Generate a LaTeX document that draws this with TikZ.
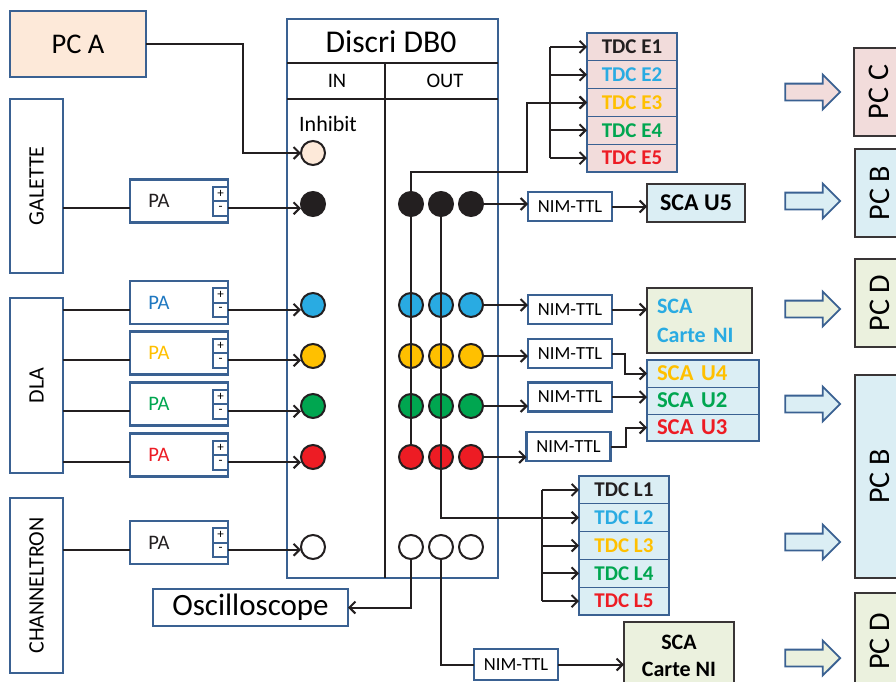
\documentclass[tikz,border=0pt]{standalone}
\usepackage{fontspec}
\setmainfont{Carlito}
\usetikzlibrary{arrows.meta,positioning,shapes.arrows}
\definecolor{frameblue}{HTML}{3A6192}
\definecolor{pcorange}{HTML}{FDE9D9}
\definecolor{pcpink}{HTML}{F2DCDB}
\definecolor{pcblue}{HTML}{DBEEF4}
\definecolor{pcgreen}{HTML}{EBF1DE}
\definecolor{chblack}{HTML}{231F20}
\definecolor{chcyan}{HTML}{29ABE2}
\definecolor{chyellow}{HTML}{FFC000}
\definecolor{chgreen}{HTML}{00A650}
\definecolor{chred}{HTML}{ED1C24}
\definecolor{pablue}{HTML}{1F78C1}

\begin{document}
\begin{tikzpicture}[
    x=1pt, y=-1pt,
    wire/.style={draw=chblack, line width=2pt},
    arr/.style={wire, -{Straight Barb[length=6pt,width=12pt]}},
    box/.style={draw=frameblue, line width=2.5pt, fill=white, inner sep=0pt, outer sep=0pt},
    pcbox/.style={draw=chblack!90, line width=2pt, inner sep=0pt, outer sep=0pt},
    pa/.style={box, minimum width=98pt, minimum height=43pt},
    pm/.style={draw=frameblue, line width=2pt, fill=white, minimum width=15pt, minimum height=14.5pt, inner sep=0pt, outer sep=0pt, font=\fontsize{13}{13}\selectfont},
    nim/.style={box, minimum width=84pt, minimum height=29pt, font=\fontsize{18.5}{19}\selectfont},
    dot/.style={circle, draw=chblack, line width=2pt, minimum size=24pt, inner sep=0pt, outer sep=0pt},
    row/.style={draw=frameblue, line width=1pt, minimum width=90pt, minimum height=27.8pt, inner sep=0pt, outer sep=0pt, font=\fontsize{21}{21}\selectfont\bfseries},
    frame/.style={draw=frameblue, line width=2.5pt},
    bigarrow/.style={single arrow, draw=frameblue, line width=1.8pt, minimum height=55pt, single arrow head extend=9pt, inner sep=0pt, text height=7.5pt, text depth=7.5pt, text width=0pt},
    side/.style={box, rotate=90, minimum height=53pt, font=\fontsize{22}{22}\selectfont},
    lbl/.style={inner sep=0pt}
]
\path[use as bounding box] (0,0) rectangle (896,681);
\clip (0,0) rectangle (896,681);

% sources
\node[box, fill=pcorange, minimum width=136pt, minimum height=66pt, font=\fontsize{28.5}{29}\selectfont] (pca) at (78,44) {PC A};
\node[side, minimum width=174pt] (gal) at (36.5,186) {GALETTE};
\node[side, minimum width=175pt] (dla) at (36.5,385.5) {DLA};
\node[side, minimum width=175pt] (chan) at (36.5,585.5) {CHANNELTRON};

% Discri
\node[box, minimum width=211pt, minimum height=559pt] (discri) at (392.5,298.5) {};
\draw[wire] (discri.west |- 0,63) -- (discri.east |- 0,63);
\draw[wire] (discri.west |- 0,99) -- (discri.east |- 0,99);
\draw[wire] (385,63) -- (discri.south -| 385,0);
\node[lbl, font=\fontsize{31.7}{32}\selectfont] (title) at (391,42) {Discri DB0};
\node[lbl, font=\fontsize{20.6}{21}\selectfont] (inlbl) at (337,81) {IN};
\node[lbl, font=\fontsize{20.6}{21}\selectfont] (outlbl) at (445,81) {OUT};
\node[lbl, font=\fontsize{22}{22}\selectfont] (inhlbl) at (328,124) {Inhibit};

% connecteurs
\node[dot, fill=pcorange] (inh) at (313,153) {};
\foreach \k/\yy/\col in {0/204/chblack,1/305/chcyan,2/356/chyellow,3/406/chgreen,4/457/chred,5/547/white}{
  \node[dot, fill=\col] (in\k) at (313,\yy) {};
  \node[dot, fill=\col] (outa\k) at (411,\yy) {};
  \node[dot, fill=\col] (outb\k) at (441,\yy) {};
  \node[dot, fill=\col] (outc\k) at (471,\yy) {};
}

\draw[arr] (pca.east) -- ++(97,0) |- (inh.west);

% preamplis
\foreach \k/\yy/\col/\src in {0/201/chblack/gal,1/302.5/pablue/dla,2/353/chyellow/dla,3/404/chgreen/dla,4/455/chred/dla,5/542.5/chblack/chan}{
  \node[pa] (pa\k) at (179,\yy) {};
  \node[lbl, text=\col, font=\fontsize{20.6}{21}\selectfont] (pat\k) at ([xshift=-20pt]pa\k.center) {PA};
  \node[pm, anchor=south east] (pl\k) at (pa\k.east) {+};
  \node[pm, anchor=north east] (mi\k) at (pa\k.east) {-};
  \draw[wire] (\src.south |- mi\k.west) -- (pa\k.west |- mi\k.west);
  \draw[arr] (mi\k.east) -- (mi\k.east -| in\k.west);
}

% TDC
\foreach \i/\col in {1/chblack,2/chcyan,3/chyellow,4/chgreen,5/chred}{
  \node[row, fill=pcpink, text=\col] (tdcE\i) at (632, 33+27.8*\i-13.9) {TDC E\i};
  \node[row, fill=pcblue, text=\col] (tdcL\i) at (624, 476+27.8*\i-13.9) {TDC L\i};
}
\draw[frame] (tdcE1.north west) rectangle (tdcE5.south east);
\draw[frame] (tdcL1.north west) rectangle (tdcL5.south east);

\coordinate (jE) at (527,172);
\coordinate (busE) at (550,0);
\coordinate (busL) at (542,0);

\draw[wire] (busE |- tdcE1.west) -- (busE |- tdcE5.west);
\draw[wire] (busL |- tdcL1.west) -- (busL |- tdcL5.west);
\foreach \i in {1,...,5}{
  \draw[arr] (busE |- tdcE\i.west) -- (tdcE\i.west);
  \draw[arr] (busL |- tdcL\i.west) -- (tdcL\i.west);
}

\draw[wire] (outa4.north) -- (outa0.center);
\draw[arr] (outa0.center) |- (jE) |- (tdcE3.west);
\draw[wire] (outb0.center) |- (busL |- tdcL2.west);

% NIM-TTL
\node[nim] (nim0) at (570,206.5) {NIM-TTL};
\node[nim] (nim1) at (570,309.5) {NIM-TTL};
\node[nim] (nim2) at (570,353.5) {NIM-TTL};
\node[nim] (nim3) at (570,397) {NIM-TTL};
\node[nim] (nim4) at (568.5,446.5) {NIM-TTL};
\node[nim, minimum height=31pt] (nim5) at (516,664.5) {NIM-TTL};
\foreach \k in {0,...,4}
  \draw[arr] (outc\k.east) -- (outc\k.east -| nim\k.west);

% SCA
\node[pcbox, fill=pcblue, minimum width=98pt, minimum height=38pt, font=\fontsize{24}{24}\selectfont\bfseries] (scaU5) at (696,203) {SCA U5};
\node[pcbox, fill=pcgreen, minimum width=105pt, minimum height=65pt, text width=85pt, align=left, text=chcyan, font=\fontsize{22}{29}\selectfont\bfseries] (scaNI) at (699.5,320.5) {SCA\\Carte NI};
\foreach \i/\nm/\col in {1/U4/chyellow,2/U2/chgreen,3/U3/chred}
  \node[row, fill=pcblue, text=\col, minimum width=112pt, minimum height=27pt, text width=92pt, align=left, font=\fontsize{22.7}{23}\selectfont\bfseries] (sca\nm) at (703, 360+27*\i-13.5) {SCA \nm};
\draw[frame] (scaU4.north west) rectangle (scaU3.south east);
\node[pcbox, fill=pcgreen, minimum width=110pt, minimum height=68pt, align=center, font=\fontsize{22}{27}\selectfont\bfseries] (scaNIb) at (679,656) {SCA\\Carte NI};

\draw[arr] (nim0.east) -- (nim0.east -| scaU5.west);
\draw[arr] (nim1.east) -- (nim1.east -| scaNI.west);
\draw[arr] (nim2.east) -- ++(13,0) |- (scaU4.west);
\draw[arr] (nim3.east) -- (nim3.east -| scaU2.west);
\draw[arr] (nim4.east) -- ++(15,0) |- (scaU3.west);

% sorties du bas
\node[box, minimum width=195pt, minimum height=37pt, font=\fontsize{31}{31}\selectfont] (osc) at (250.5,607.5) {Oscilloscope};
\draw[arr] (outa5.south) |- (osc.east);
\draw[wire] (outb5.south) |- (nim5.west);
\draw[arr] (nim5.east) -- (nim5.east -| scaNIb.west);

% PC
\foreach \yy/\col [count=\j] in {92/pcpink,201/pcblue,309/pcgreen,404/pcblue,542/pcblue,658/pcgreen}
  \node[bigarrow, fill=\col] (bar\j) at (808.5,\yy) {};
\node[pcbox, fill=pcpink, rotate=90, minimum width=88pt, minimum height=50pt, font=\fontsize{30}{30}\selectfont] (pcC) at (879,92) {PC C};
\node[pcbox, fill=pcblue, rotate=90, minimum width=88pt, minimum height=50pt, font=\fontsize{30}{30}\selectfont] (pcB) at (880,193) {PC B};
\node[pcbox, fill=pcgreen, rotate=90, minimum width=88pt, minimum height=50pt, font=\fontsize{30}{30}\selectfont] (pcD) at (880,303) {PC D};
\node[pcbox, fill=pcblue, rotate=90, minimum width=203pt, minimum height=50pt, font=\fontsize{30}{30}\selectfont] (pcBb) at (880,476.5) {PC B};
\node[pcbox, fill=pcgreen, rotate=90, minimum width=97pt, minimum height=50pt, font=\fontsize{30}{30}\selectfont] (pcDb) at (880,641.5) {PC D};

\end{tikzpicture}
\end{document}
